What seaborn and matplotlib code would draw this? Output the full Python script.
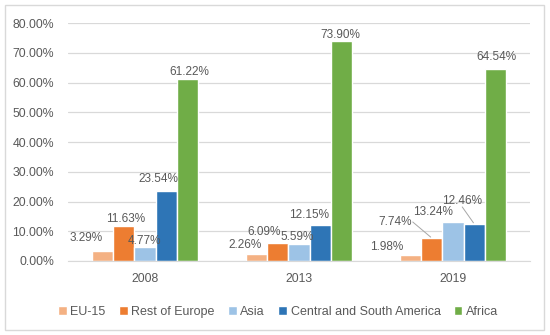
import pandas as pd
import seaborn as sns
import matplotlib.pyplot as plt
from matplotlib.patches import Rectangle

# Data
years = ['2008', '2013', '2019']
regions = ['EU-15', 'Rest of Europe', 'Asia', 'Central and South America', 'Africa']
eu15 = [3.29, 2.26, 1.98]
rest_europe = [11.63, 6.09, 7.74]
asia = [4.77, 5.59, 13.24]
csa = [23.54, 12.15, 12.46]
africa = [61.22, 73.90, 64.54]
colors = ['#F4B183', '#ED7D31', '#9DC3E6', '#2E75B6', '#70AD47']

# label offsets (pixels) from the top of each bar, as moved in the original
label_offsets = {
    ('2008', 'EU-15'): (-16, 13), ('2008', 'Rest of Europe'): (2, 7),
    ('2008', 'Asia'): (-1, 6), ('2008', 'Central and South America'): (-8, 12),
    ('2008', 'Africa'): (2, 7),
    ('2013', 'EU-15'): (-11, 9), ('2013', 'Rest of Europe'): (-14, 11),
    ('2013', 'Asia'): (-2, 7), ('2013', 'Central and South America'): (-11, 10),
    ('2013', 'Africa'): (-1, 6),
    ('2019', 'EU-15'): (-24, 8), ('2019', 'Rest of Europe'): (-37, 16),
    ('2019', 'Asia'): (-20, 10), ('2019', 'Central and South America'): (-12, 23),
    ('2019', 'Africa'): (1, 12),
}
leader = {('2019', 'Rest of Europe'), ('2019', 'Central and South America')}

df = pd.DataFrame({
    'Year': years * 5,
    'Region': sum([[r] * 3 for r in regions], []),
    'Share': eu15 + rest_europe + asia + csa + africa,
})

sns.set_style('white')
plt.rcParams['font.family'] = ['Liberation Sans', 'DejaVu Sans']
text_col = '#595959'

fig = plt.figure(figsize=(5.5, 3.35), dpi=100)
ax = fig.add_axes([0.1236, 0.2209, 0.84, 0.7104])
sns.barplot(data=df, x='Year', y='Share', hue='Region', hue_order=regions,
            palette=colors, width=0.69, gap=0, saturation=1, ax=ax, legend=True)

ax.set_ylim(0, 80)
ax.set_yticks(range(0, 81, 10))
ax.set_yticklabels([f'{v:.2f}%' for v in range(0, 81, 10)])
ax.yaxis.grid(True, color='#D9D9D9', linewidth=0.9)
ax.set_axisbelow(True)
ax.set_xlabel('')
ax.set_ylabel('')
for s in ['top', 'right', 'left']:
    ax.spines[s].set_visible(False)
ax.spines['bottom'].set_color('#D9D9D9')
ax.tick_params(axis='both', length=0, labelsize=8.8, labelcolor=text_col)
ax.tick_params(axis='x', pad=9)
ax.tick_params(axis='y', pad=10)

for cont, reg in zip(ax.containers, regions):
    for bar, yr in zip(cont, years):
        v = bar.get_height()
        x = bar.get_x() + bar.get_width() / 2
        dx, dy = label_offsets[(yr, reg)]
        ax.annotate(f'{v:.2f}%', (x, v), xytext=(dx, dy), textcoords='offset pixels',
                    ha='center', va='center', fontsize=8.5, color=text_col)
        if (yr, reg) in leader:
            ax.annotate('', (x, v), xytext=(dx + 18, dy) if reg == 'Rest of Europe' else (dx, dy - 6),
                        textcoords='offset pixels',
                        arrowprops=dict(arrowstyle='-', color='#A6A6A6', lw=0.7,
                                        shrinkA=0, shrinkB=1))

leg = ax.legend(loc='upper center', bbox_to_anchor=(0.455, -0.14), ncol=5, frameon=False,
                fontsize=9, handlelength=0.7, handleheight=0.7, handletextpad=0.3,
                columnspacing=1.05)
for t in leg.get_texts():
    t.set_color(text_col)

fig.patches.append(Rectangle((0.009, 0.015), 0.98, 0.97, transform=fig.transFigure,
                             fill=False, edgecolor='#D9D9D9', linewidth=1))

fig.savefig('out.png', dpi=100)
